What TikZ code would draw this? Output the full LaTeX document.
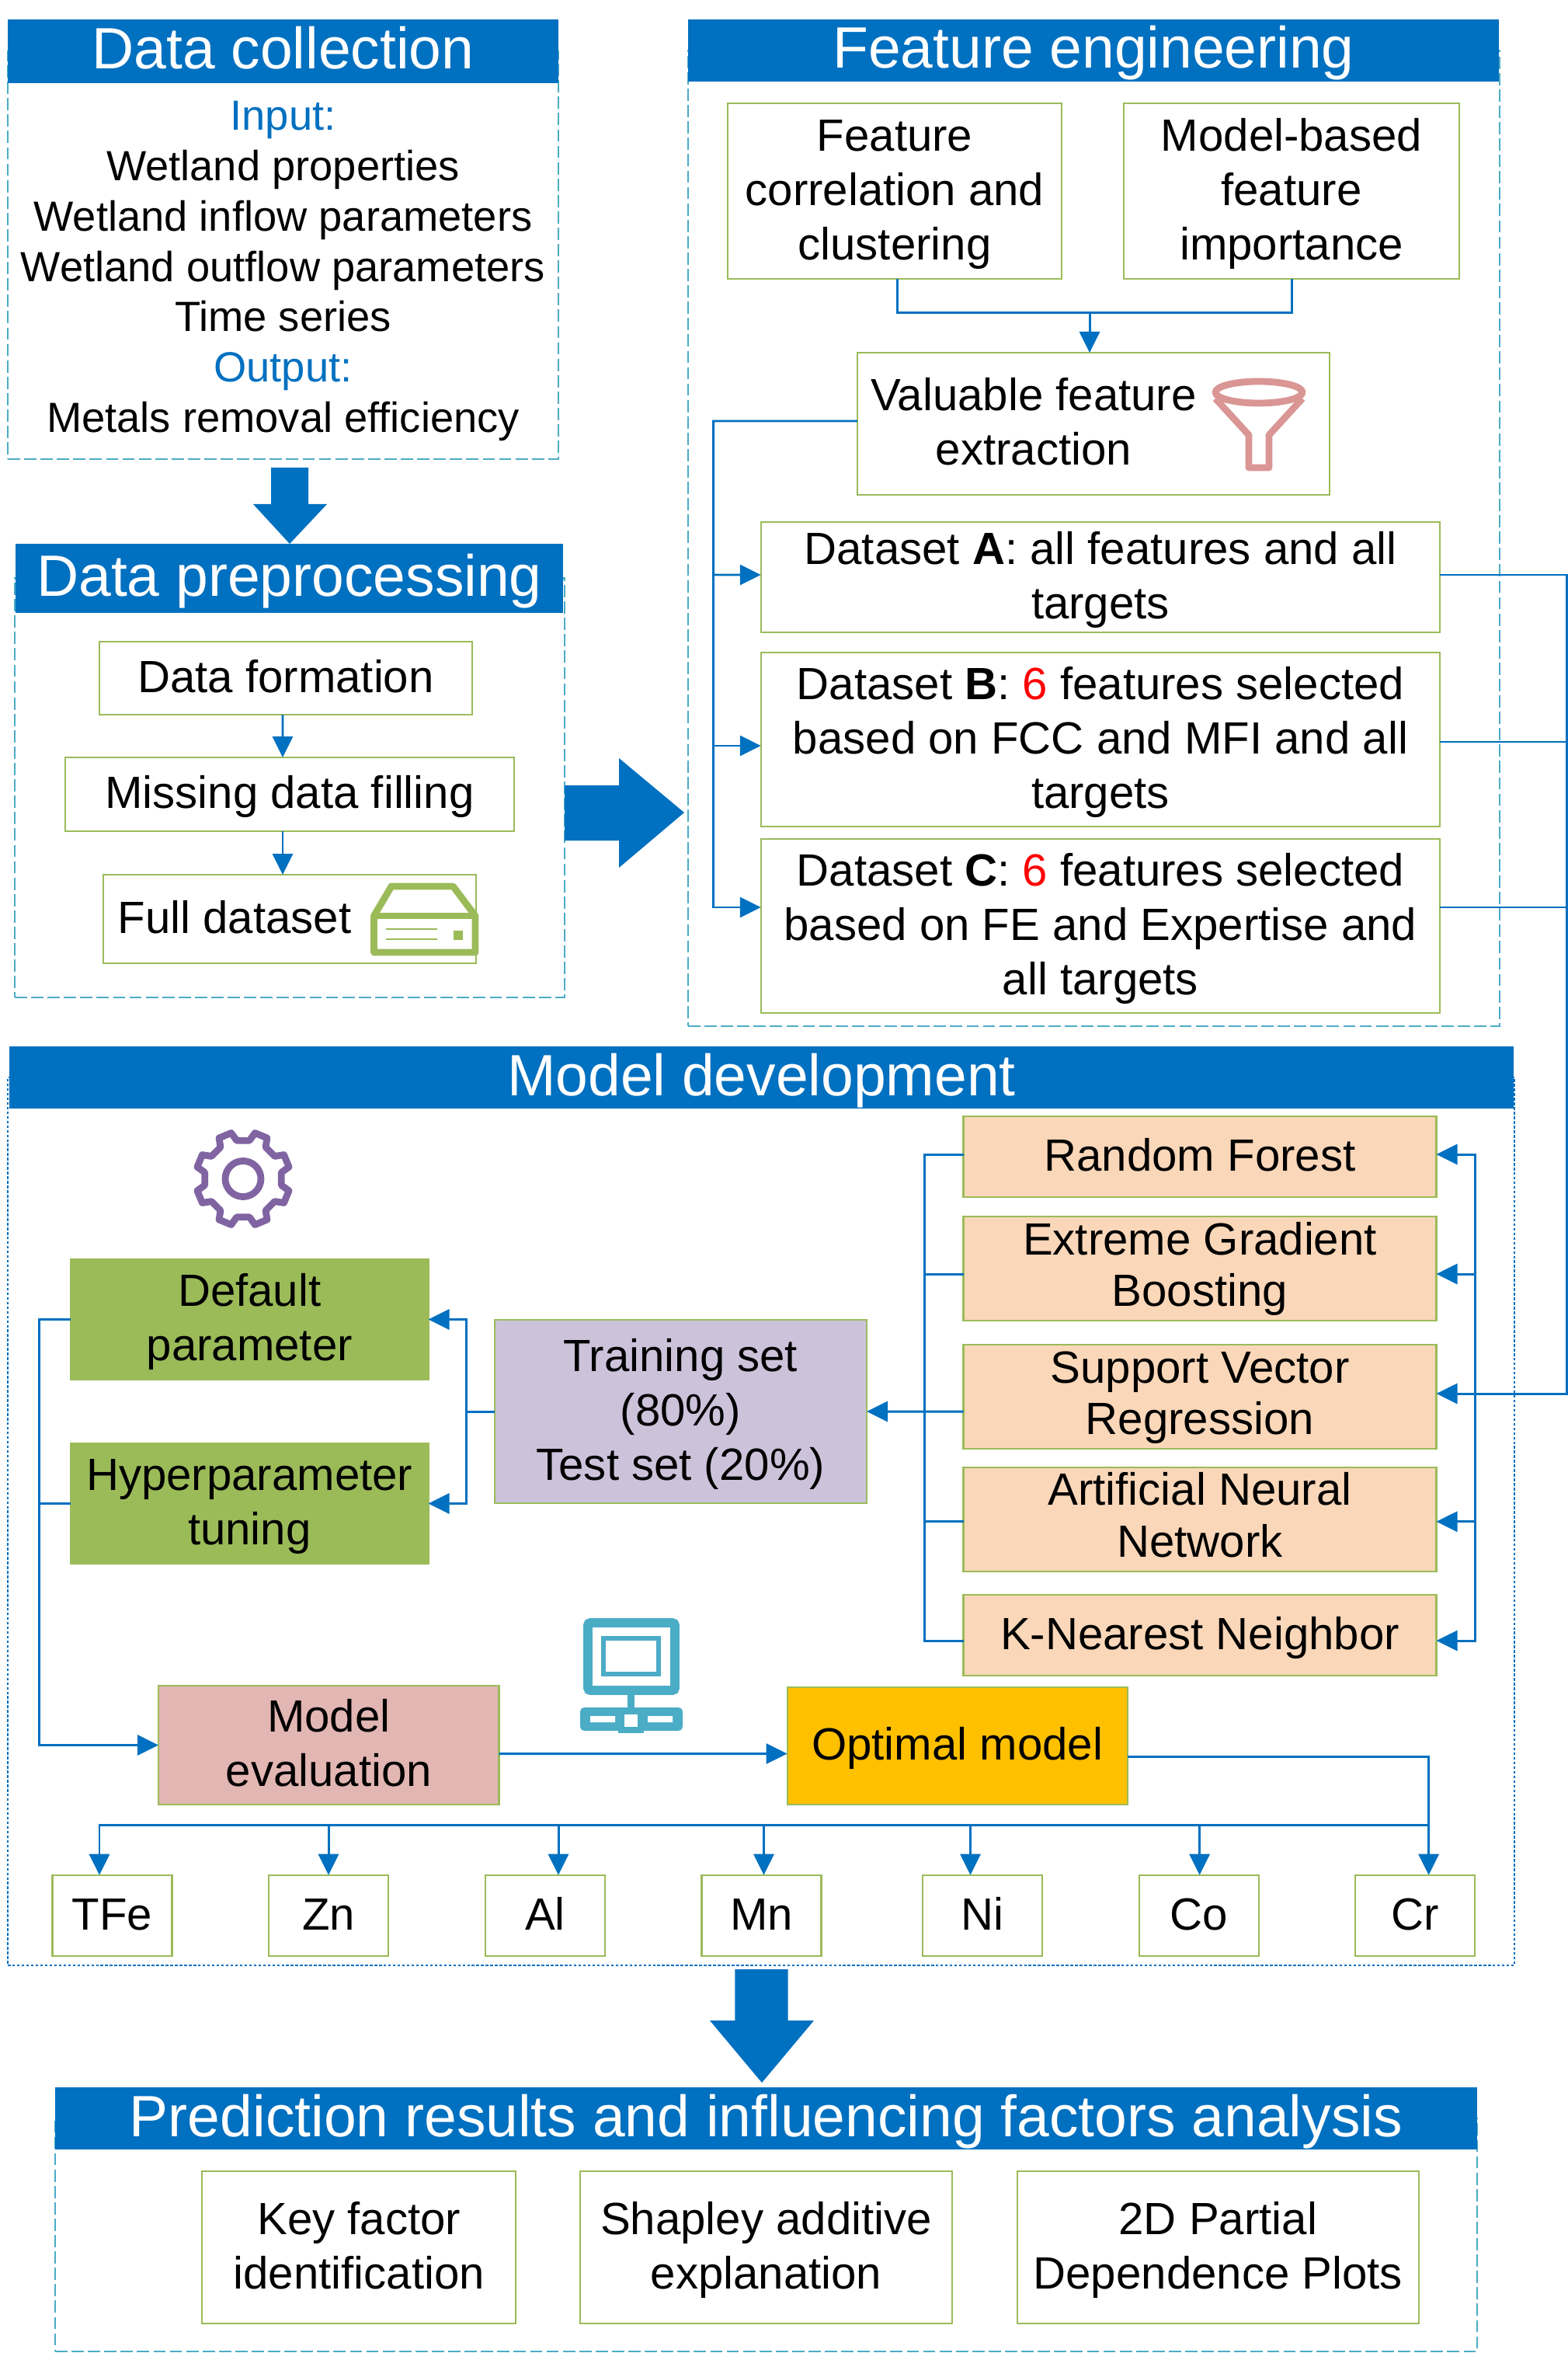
\documentclass[tikz,border=0pt]{standalone}
\usepackage{fontspec}
\setmainfont{Liberation Sans}
\usetikzlibrary{arrows.meta,calc,positioning}
\definecolor{hblue}{HTML}{0070C0}
\definecolor{bgreen}{HTML}{9BBB59}
\definecolor{dcyan}{HTML}{4BACC6}
\definecolor{fpink}{HTML}{E2B6B3}
\definecolor{fpurp}{HTML}{CCC3DB}
\definecolor{forange}{HTML}{FAD7B9}
\definecolor{fgold}{HTML}{FFC000}
\definecolor{ipink}{HTML}{D99694}
\definecolor{ipurp}{HTML}{8064A2}
\newcommand{\lstrut}{\vrule width 0pt height 15.4pt depth 5.1pt}
\newcommand{\estrut}{\vrule width 0pt height 0pt depth 5.1pt}
\newcommand{\mstrut}{\vrule width 0pt height 13.9pt depth 0pt}
\newcommand{\fstrut}{\vrule width 0pt height 0pt depth 3.6pt}

\begin{document}
\begin{tikzpicture}[
  y=-1cm,
  font=\fontsize{16.55}{19.9}\selectfont,
  panel/.style={draw=dcyan, dash pattern=on 4.5pt off 1.5pt, line width=0.6pt, inner sep=0pt, outer sep=0pt},
  hdr/.style={fill=hblue, text=white, inner sep=0pt, outer sep=0pt, text height=0.62cm, text depth=0.16cm,
              font=\fontsize{21.35}{25}\selectfont},
  sbox/.style={draw=bgreen, line width=0.6pt, fill=white, align=center, inner sep=0pt, outer sep=0pt,
               execute at end node=\estrut},
  cbox/.style={sbox, fill=#1},
  mbox/.style={cbox=forange, minimum width=6.09cm, font=\fontsize{16.55}{19.05}\selectfont},
  tbox/.style={mbox, minimum height=1.32cm, execute at end node=\fstrut},
  line/.style={draw=hblue, line width=0.85pt},
  arr/.style={line, -{Triangle[length=0.27cm,width=0.26cm]}},
  bigarr/.style={fill=hblue},
  icon/.style={line width=2.5pt, line join=round},
]
\useasboundingbox (0,0) rectangle (20.19,30.29);

% ---- panels ----
\node[panel,minimum width=7.09cm,minimum height=5.25cm] (pColl) at (3.645,3.285) {};
\node[panel,minimum width=7.08cm,minimum height=5.395cm] (pPre) at (3.73,10.1425) {};
\node[panel,minimum width=10.45cm,minimum height=12.56cm] (pFeat) at (14.085,6.93) {};
\node[panel,draw=hblue,dash pattern=on 1pt off 0.7pt,line width=0.4pt,minimum width=19.4cm,minimum height=11.43cm] (pModel) at (9.80,19.585) {};
\node[panel,minimum width=18.31cm,minimum height=3.0cm] (pPred) at (9.865,28.77) {};

% ---- headers ----
\node[hdr,minimum width=7.09cm,minimum height=0.82cm] (hColl) at (3.645,0.66) {Data collection};
\node[hdr,minimum width=7.05cm,minimum height=0.89cm] (hPre) at (3.725,7.445) {Data preprocessing};
\node[hdr,minimum width=10.435cm,minimum height=0.80cm] (hFeat) at (14.08,0.65) {Feature engineering};
\node[hdr,minimum width=19.37cm,minimum height=0.795cm] (hModel) at (9.805,13.87) {Model development};
\node[hdr,minimum width=18.31cm,minimum height=0.80cm] (hPred) at (9.865,27.27) {Prediction results and influencing factors analysis};

% ---- data collection text ----
\node[align=center,font=\fontsize{15.45}{18.42}\selectfont,inner sep=0pt,execute at end node=\estrut] (tColl) at (3.645,3.44)
  {\lstrut\textcolor{hblue}{Input:}\\Wetland properties\\Wetland inflow parameters\\Wetland outflow parameters\\Time series\\\textcolor{hblue}{Output:}\\Metals removal efficiency};

% ---- preprocessing ----
\node[sbox,minimum width=4.80cm,minimum height=0.94cm] (dform) at (3.68,8.73) {\lstrut Data formation};
\node[sbox,minimum width=5.78cm,minimum height=0.95cm] (miss) at (3.73,10.225) {\lstrut Missing data filling};
\node[sbox,minimum width=4.80cm,minimum height=1.14cm] (full) at (3.73,11.83) {\lstrut Full dataset\hspace*{1.42cm}};

% ---- feature engineering ----
\node[sbox,minimum width=4.30cm,minimum height=2.26cm] (fcc) at (11.52,2.46) {\lstrut Feature\\correlation and\\clustering};
\node[sbox,minimum width=4.32cm,minimum height=2.26cm] (mfi) at (16.63,2.46) {\lstrut Model-based\\feature\\importance};
\node[sbox,minimum width=6.085cm,minimum height=1.83cm] (valu) at (14.08,5.455) {\lstrut Valuable feature\hspace*{1.54cm}\\extraction\hspace*{1.54cm}};
\node[sbox,minimum width=8.745cm,minimum height=1.42cm] (dsA) at (14.17,7.43) {\lstrut Dataset \textbf{A}: all features and all\\targets};
\node[sbox,minimum width=8.745cm,minimum height=2.24cm] (dsB) at (14.17,9.52) {\lstrut Dataset \textbf{B}: \textcolor{red}{6} features selected\\based on FCC and MFI and all\\targets};
\node[sbox,minimum width=8.745cm,minimum height=2.24cm] (dsC) at (14.17,11.92) {\lstrut Dataset \textbf{C}: \textcolor{red}{6} features selected\\based on FE and Expertise and\\all targets};

% ---- model development ----
\node[cbox=bgreen,minimum width=4.605cm,minimum height=1.55cm] (deflt) at (3.2125,16.985) {\lstrut Default\\parameter};
\node[cbox=bgreen,minimum width=4.605cm,minimum height=1.55cm] (hyper) at (3.2125,19.355) {\lstrut Hyperparameter\\tuning};
\node[cbox=fpurp,minimum width=4.794cm,minimum height=2.36cm] (train) at (8.763,18.17) {\lstrut Training set\\(80\%)\\Test set (20\%)};
\node[mbox,minimum height=1.04cm] (rf) at (15.45,14.89) {\lstrut Random Forest};
\node[tbox] (xgb) at (15.45,16.33) {\mstrut Extreme Gradient\\Boosting};
\node[tbox] (svr) at (15.45,17.98) {\mstrut Support Vector\\Regression};
\node[tbox] (ann) at (15.45,19.5575) {\mstrut Artificial Neural\\Network};
\node[mbox,minimum height=1.04cm] (knn) at (15.45,21.05) {\lstrut K-Nearest Neighbor};
\node[cbox=fpink,minimum width=4.385cm,minimum height=1.53cm] (meval) at (4.2325,22.465) {\lstrut Model\\evaluation};
\node[cbox=fgold,minimum width=4.38cm,minimum height=1.51cm] (opt) at (12.326,22.475) {\lstrut Optimal model};
\foreach \nm/\px in {TFe/1.445,Zn/4.23,Al/7.02,Mn/9.805,Ni/12.65,Co/15.436,Cr/18.22}
  \node[sbox,minimum width=1.54cm,minimum height=1.046cm] (\nm) at (\px,24.66) {\lstrut\nm};

% ---- results ----
\node[sbox,minimum width=4.044cm,minimum height=1.955cm] (keyf) at (4.622,28.93) {\lstrut Key factor\\identification};
\node[sbox,minimum width=4.79cm,minimum height=1.955cm] (shap) at (9.865,28.93) {\lstrut Shapley additive\\explanation};
\node[sbox,minimum width=5.174cm,minimum height=1.955cm] (part) at (15.683,28.93) {\lstrut 2D Partial\\Dependence Plots};

% ---- block arrows ----
\fill[bigarr] (3.49,6.02) -- (3.97,6.02) -- (3.97,6.49) -- (4.21,6.49) -- (3.73,7.00) -- (3.26,6.49) -- (3.49,6.49) -- cycle;
\fill[bigarr] (7.27,10.11) -- (7.97,10.11) -- (7.97,9.76) -- (8.81,10.46) -- (7.97,11.17) -- (7.97,10.82) -- (7.27,10.82) -- cycle;
\fill[bigarr] (9.464,25.35) -- (10.146,25.35) -- (10.146,26.01) -- (10.48,26.01) -- (9.81,26.81) -- (9.14,26.01) -- (9.464,26.01) -- cycle;

% ---- trunk points ----
\coordinate (tV) at (14.03,4.03);
\coordinate (tF) at (9.185,5.42);
\coordinate (tR) at (20.17,7.40);
\coordinate (tM) at (18.99,17.94);
\coordinate (tL) at (11.904,18.17);
\coordinate (tB) at (6.007,18.17);
\coordinate (tE) at (0.506,16.985);
\coordinate (tO) at (18.396,23.49);

% ---- edges ----
\draw[arr] ([xshift=-0.04cm]dform.south) -- ([xshift=-0.09cm]miss.north);
\draw[arr] ([xshift=-0.09cm]miss.south) -- ([xshift=-0.09cm]full.north);
\draw[line] ([xshift=0.03cm]fcc.south) |- (tV);
\draw[line] (mfi.south) |- (tV);
\draw[arr] (tV) -- (tV|-valu.north);
\draw[arr] ([yshift=0.035cm]valu.west) -- (tF) |- ([yshift=0.03cm]dsA.west);
\draw[arr] (tF) |- ([yshift=-0.08cm]dsB.west);
\draw[arr] (tF) |- ([yshift=0.24cm]dsC.west);
\draw[arr] ([yshift=0.03cm]dsA.east) -- (tR) |- ([yshift=0.04cm]svr.east);
\draw[line] ([yshift=-0.03cm]dsB.east) -| (tR);
\draw[line] ([yshift=0.24cm]dsC.east) -| (tR);
\draw[arr] (tM) |- ([yshift=0.03cm]rf.east);
\draw[arr] (tM) |- ([yshift=-0.07cm]xgb.east);
\draw[arr] (tM) |- ([yshift=-0.03cm]ann.east);
\draw[arr] (tM) |- ([yshift=-0.07cm]knn.east);
\draw[line] ([yshift=0.03cm]rf.west) -| (tL);
\draw[line] ([yshift=-0.07cm]xgb.west) -| (tL);
\draw[line] ([yshift=-0.03cm]ann.west) -| (tL);
\draw[line] ([yshift=-0.07cm]knn.west) -| (tL);
\draw[arr] ([yshift=-0.19cm]svr.west) -- (train.east);
\draw[arr] (train.west) -- (tB) |- (deflt.east);
\draw[arr] (tB) |- (hyper.east);
\draw[arr] (deflt.west) -- (tE) |- (meval.west);
\draw[line] (hyper.west) -- (tE|-hyper.west);
\draw[arr] ([yshift=-0.11cm]meval.east) -- ([yshift=-0.10cm]opt.west);
\draw[arr] ([yshift=-0.14cm]opt.east) -| ([xshift=0.176cm]Cr.north);
\foreach \nm/\sh in {TFe/-0.165,Zn/0,Al/0.17,Mn/0.03,Ni/-0.155,Co/0.01}
  \draw[arr] (tO) -| ([xshift=\sh cm]\nm.north);

% ---- icons ----
\draw[icon,bgreen] (4.815,11.79) -- (5.04,11.41) -- (5.835,11.41) -- (6.12,11.79) -- (6.12,12.26) -- (4.815,12.26) -- cycle;
\draw[icon,bgreen] (4.815,11.79) -- (6.12,11.79);
\draw[bgreen,line width=0.8pt] (4.97,11.96) -- (5.63,11.96) (4.97,12.09) -- (5.63,12.09);
\fill[bgreen] (5.84,11.98) rectangle (5.96,12.10);
\draw[icon,ipink] (16.21,5.05) ellipse (0.56cm and 0.14cm);
\draw[icon,ipink] (15.65,5.13) -- (16.08,5.60) -- (16.08,6.02) -- (16.34,6.02) -- (16.34,5.60) -- (16.77,5.13);
\begin{scope}[shift={(3.13,15.175)}]
  \draw[icon,ipurp] (9.5:0.50) \foreach \a in {22.5,67.5,...,337.5} { -- (\a-13:0.50) -- (\a-8:0.61) -- (\a+8:0.61) -- (\a+13:0.50) } -- cycle;
  \draw[icon,ipurp] (0,0) circle (0.23);
\end{scope}
\draw[dcyan,line width=3.4pt,rounded corners=1pt] (7.57,20.89) rectangle (8.69,21.76);
\draw[dcyan,line width=1.6pt] (7.77,21.09) rectangle (8.48,21.55);
\fill[dcyan] (8.08,21.82) rectangle (8.17,22.05);
\fill[dcyan,rounded corners=1.5pt] (7.47,21.98) rectangle (8.79,22.28);
\fill[white] (7.60,22.09) rectangle (7.92,22.17) (8.34,22.09) rectangle (8.66,22.17);
\draw[dcyan,fill=white,line width=2.2pt] (8.00,22.03) rectangle (8.25,22.27);
\end{tikzpicture}
\end{document}
